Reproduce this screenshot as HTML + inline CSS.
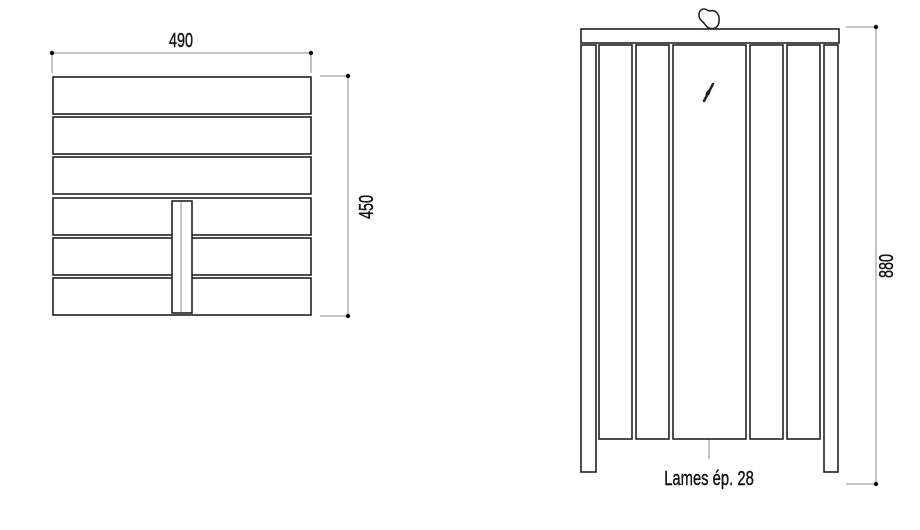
<!DOCTYPE html>
<html><head><meta charset="utf-8"><style>body{margin:0;background:#fff}svg{display:block}</style></head><body>
<svg width="920" height="530" viewBox="0 0 920 530" xmlns="http://www.w3.org/2000/svg" font-family="Liberation Sans, sans-serif">
<g fill="none" stroke="#222" stroke-width="1.6">
<rect x="53" y="77" width="258" height="37"/>
<rect x="53" y="117" width="258" height="37"/>
<rect x="53" y="157" width="258" height="37"/>
<rect x="53" y="198" width="258" height="37"/>
<rect x="53" y="238" width="258" height="37"/>
<rect x="53" y="278" width="258" height="37"/>
</g>
<rect x="172" y="201" width="20" height="112" fill="#fff" stroke="#222" stroke-width="1.6"/>
<line x1="181" y1="202" x2="181" y2="312" stroke="#888" stroke-width="1"/>
<g stroke="#888" stroke-width="1">
<line x1="52" y1="53" x2="311" y2="53"/><line x1="52" y1="53" x2="52" y2="73"/><line x1="311" y1="53" x2="311" y2="73"/>
<line x1="348" y1="76" x2="348" y2="316"/><line x1="320" y1="76" x2="348" y2="76"/><line x1="320" y1="316" x2="348" y2="316"/>
<line x1="876" y1="27" x2="876" y2="484"/><line x1="846" y1="27" x2="876" y2="27"/><line x1="846" y1="484" x2="876" y2="484"/>
<line x1="709" y1="439" x2="709" y2="459"/>
</g>
<g fill="#111"><circle cx="52" cy="53" r="2.2"/><circle cx="311" cy="53" r="2.2"/><circle cx="348" cy="76" r="2.2"/><circle cx="348" cy="316" r="2.2"/><circle cx="876" cy="27" r="2.2"/><circle cx="876" cy="484" r="2.2"/></g>
<g fill="#111" stroke="#111" stroke-width="0.4">
<text transform="translate(181,47) scale(0.72,1)" font-size="20" text-anchor="middle">490</text>
<text transform="translate(373,207) rotate(-90) scale(0.72,1)" font-size="20" text-anchor="middle">450</text>
<text transform="translate(893,266) rotate(-90) scale(0.72,1)" font-size="20" text-anchor="middle">880</text>
<text transform="translate(709,485) scale(0.74,1)" font-size="20" text-anchor="middle">Lames ép. 28</text>
</g>
<g fill="#fff" stroke="#222" stroke-width="1.6">
<path d="M703,22 C697,18 698,9 704,9 C707,9 708,11 710,11 C715,9 720,14 719,21 C719,27 714,30 709,28 C706,27 705,24 703,22Z"/>
<rect x="581" y="29" width="258" height="14"/>
<rect x="581" y="45" width="15" height="427"/>
<rect x="824" y="45" width="14" height="427"/>
<rect x="599" y="45" width="33" height="394"/>
<rect x="636" y="45" width="33" height="394"/>
<rect x="673" y="45" width="73" height="394"/>
<rect x="750" y="45" width="33" height="394"/>
<rect x="787" y="45" width="33" height="394"/>
</g>
<line x1="704" y1="101" x2="713" y2="84" stroke="#222" stroke-width="2.5" stroke-linecap="round"/>
<ellipse cx="708" cy="93" rx="2" ry="3.5" transform="rotate(30 708 93)" fill="#222"/>
</svg>
</body></html>
